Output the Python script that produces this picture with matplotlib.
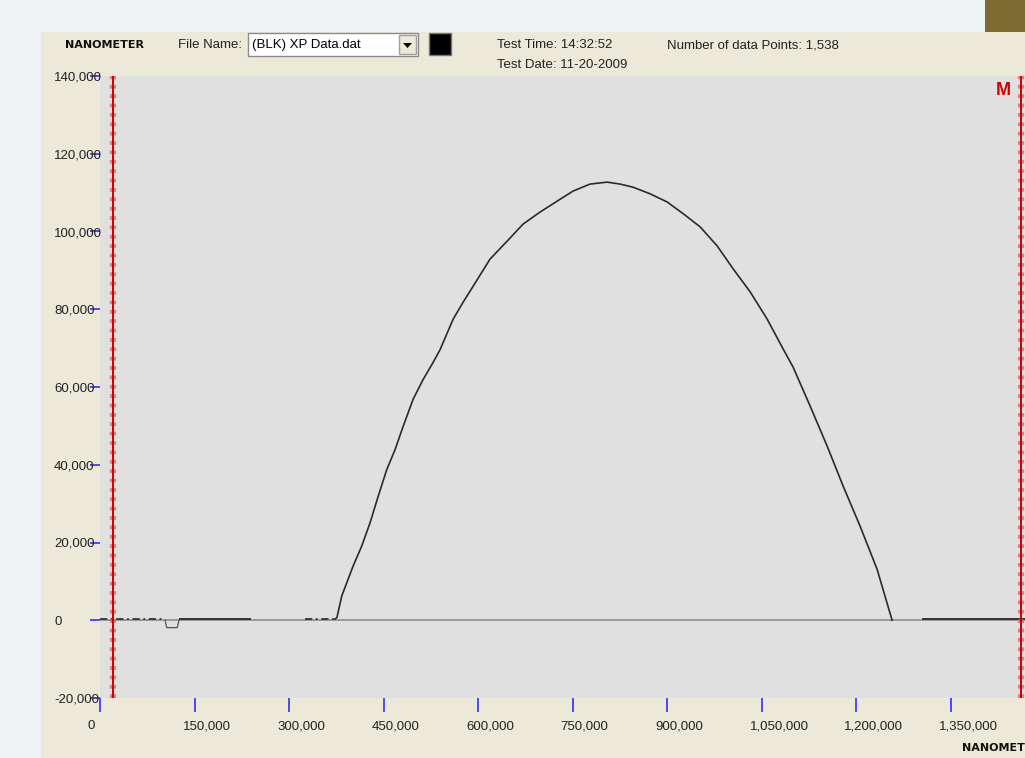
import matplotlib
matplotlib.use("Agg")
import matplotlib.pyplot as plt
from matplotlib.patches import Rectangle, Polygon
from matplotlib.transforms import ScaledTranslation

plt.rcParams['font.family'] = ['Liberation Sans Narrow', 'Liberation Sans', 'DejaVu Sans']

# --- data (nanometer vs value) ---
lead_x = [0, 100000]                      # dashed lead-in near zero
lead_y = [300, 300]
dip_x = [103200, 106000, 122500, 125400]
dip_y = [0, -1900, -1900, 0]
flat_x = [127000, 238000]
flat_y = [300, 300]
pre_x = [325000, 373000]
pre_y = [300, 300]
trace_x = [373000, 376000, 383700, 388900, 401600, 415400, 428600, 441300, 455100,
           468300, 481000, 496800, 512700, 528600, 539700, 560300, 576200, 592100,
           619000, 646000, 671400, 698400, 725400, 750800, 777800, 804800, 825400,
           846000, 873000, 900000, 925400, 952400, 979400, 1004800, 1031700, 1058700,
           1084100, 1100000, 1127000, 1154000, 1179400, 1206300, 1233300, 1257100]
trace_y = [300, 700, 6240, 8480, 13900, 19100, 25080, 31800, 38750,
           43900, 49830, 56800, 61900, 66300, 69600, 77400, 81800, 85900,
           92900, 97500, 101900, 105000, 107800, 110400, 112200, 112700, 112200,
           111400, 109700, 107600, 104600, 101200, 96300, 90400, 84500, 77500,
           69800, 65100, 55100, 44800, 34500, 24200, 13100, 0]
tail_x = [1306000, 1468000]
tail_y = [300, 300]
markers_x = [21000, 1462000]

x_ticks = [0, 150000, 300000, 450000, 600000, 750000, 900000, 1050000, 1200000, 1350000]
y_ticks = [140000, 120000, 100000, 80000, 60000, 40000, 20000, 0, -20000]

W, H = 1025, 758
def fx(x): return x / W
def fy(y): return 1 - y / H

fig = plt.figure(figsize=(10.25, 7.58), dpi=100)
fig.patch.set_facecolor('#eff2f2')

# window panel
fig.patches.append(Rectangle((fx(41), 0), 1 - fx(41), fy(32), transform=fig.transFigure,
                             facecolor='#ece9d8', edgecolor='none', zorder=0))
fig.patches.append(Rectangle((fx(985), fy(32)), 1 - fx(985), 1 - fy(32), transform=fig.transFigure,
                             facecolor='#7d6a30', edgecolor='none', zorder=0))
# combo box
fig.patches.append(Rectangle((fx(248), fy(56)), fx(170), 23 / H, transform=fig.transFigure,
                             facecolor='white', edgecolor='#8a8a8a', lw=1, zorder=1))
fig.patches.append(Rectangle((fx(399), fy(54)), fx(17), 19 / H, transform=fig.transFigure,
                             facecolor='#ece9d8', edgecolor='#a0a0a0', lw=1, zorder=2))
fig.patches.append(Polygon([(fx(403), fy(43)), (fx(412), fy(43)), (fx(407.5), fy(48))],
                           closed=True, transform=fig.transFigure, facecolor='black', zorder=3))
fig.patches.append(Rectangle((fx(429), fy(55)), fx(22), 22 / H, transform=fig.transFigure,
                             facecolor='black', edgecolor='#777777', lw=1, zorder=1))

fs = 9.5
tc = '#222222'
bold_fam = ['DejaVu Sans']
fig.text(fx(65), fy(45), "NANOMETER", fontsize=8, fontweight='bold', va='center',
         family=bold_fam, color='#111111')
fig.text(fx(178), fy(45), "File Name:", fontsize=fs, va='center', color=tc)
fig.text(fx(252), fy(45), "(BLK) XP Data.dat", fontsize=fs, va='center', color='black', zorder=4)
fig.text(fx(497), fy(45), "Test Time: 14:32:52", fontsize=fs, va='center', color=tc)
fig.text(fx(497), fy(65), "Test Date: 11-20-2009", fontsize=fs, va='center', color=tc)
fig.text(fx(667), fy(45), "Number of data Points: 1,538", fontsize=fs, va='center', color=tc)
fig.text(fx(962), fy(748), "NANOMETER", fontsize=8, fontweight='bold', va='center',
         family=bold_fam, color='#111111')

ax = fig.add_axes([fx(100), fy(698), 1 - fx(100), (698 - 76) / H])
ax.set_zorder(5)
ax.set_facecolor('#e0e0e0')
for s in ax.spines.values():
    s.set_visible(False)

ax.axhline(0, color='#8c8c8c', lw=1.2, zorder=1)
ax.plot(lead_x, lead_y, color='#333333', lw=1.3, ls=(0, (4, 2, 1, 2)), zorder=2)
ax.plot(dip_x, dip_y, color='#555555', lw=0.9, zorder=2)
ax.plot(flat_x, flat_y, color='#333333', lw=1.4, zorder=2)
ax.plot(pre_x, pre_y, color='#333333', lw=1.3, ls=(0, (4, 2, 1, 2)), zorder=2)
ax.plot(trace_x, trace_y, color='#2a2a2a', lw=1.2, zorder=3)
ax.plot(tail_x, tail_y, color='#333333', lw=1.4, zorder=2)

for mx in markers_x:
    ax.axvline(mx, color='#e06060', lw=4.5, ls=(0, (0.6, 0.9)), alpha=0.75, zorder=4)
    ax.axvline(mx, color='#cc0000', lw=1.4, zorder=5)

ax.text(0.977, 0.99, "M", transform=ax.transAxes, ha='center', va='top', color='#cc0000',
        fontsize=13, fontweight='bold', family=['Liberation Sans', 'DejaVu Sans'])

ax.set_xlim(0, 1468000)
ax.set_ylim(-20000, 140000)

ax.set_xticks(x_ticks)
ax.set_xticklabels([f"{v:,}" for v in x_ticks])
ax.set_yticks(y_ticks)
ax.set_yticklabels([f"{v:,}" for v in y_ticks])
ax.tick_params(axis='x', direction='out', length=10, width=1.2, color='#3030ff',
               labelsize=fs, labelcolor=tc, pad=6)
ax.tick_params(axis='y', direction='out', length=7.2, width=1.2, color='#3030ff',
               labelsize=fs, labelcolor=tc, pad=25.9)
shift = ScaledTranslation(-12 / 100, 0, fig.dpi_scale_trans)
for lab in ax.get_xticklabels():
    lab.set_horizontalalignment('left')
    lab.set_transform(lab.get_transform() + shift)
for lab in ax.get_yticklabels():
    lab.set_horizontalalignment('left')

fig.savefig("out.png", dpi=100)
